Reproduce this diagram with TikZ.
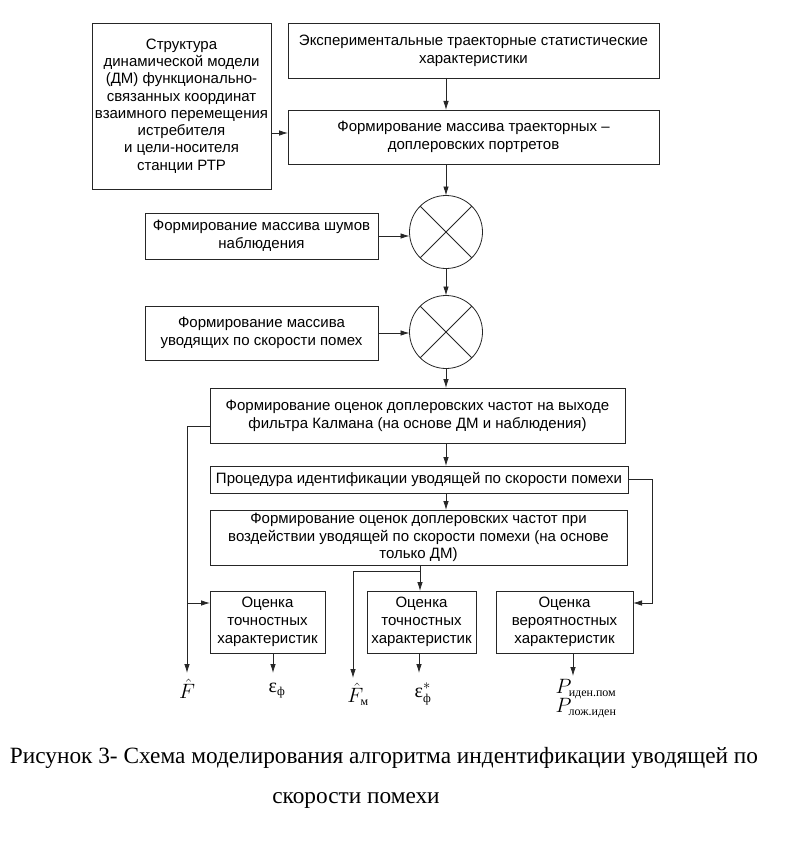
\documentclass[tikz,border=0pt]{standalone}
\usepackage{fontspec}
\setmainfont{Liberation Serif}
\setsansfont{Liberation Sans}
\usetikzlibrary{arrows.meta,calc}
\tikzset{
 box/.style={draw=black!85, line width=0.8pt, inner sep=0pt, outer sep=0pt, align=center, font=\sffamily\fontsize{15}{17.8}\selectfont},
 mix/.style={circle, draw=black!85, line width=0.8pt, minimum size=73pt, inner sep=0pt, outer sep=0pt},
 conn/.style={draw=black!85, line width=0.8pt},
 arr/.style={conn, -{Latex[length=9pt,width=5.5pt]}},
 lbl/.style={inner sep=0pt, font=\rmfamily\fontsize{20}{20}\selectfont},
 captext/.style={inner sep=0pt, font=\rmfamily\fontsize{23.3}{23.3}\selectfont},
}
\newcommand{\subtxt}[1]{\mbox{\fontsize{12}{12}\selectfont #1}}
\begin{document}
\begin{tikzpicture}[x=1pt,y=-1pt]
\useasboundingbox (0,0) rectangle (797,848);
\fill[white] (0,0) rectangle (797,848);
% boxes
\node[box, minimum width=179pt, minimum height=166pt, font=\sffamily\fontsize{15}{17.3}\selectfont] (A) at (181.5,106) {Структура\\динамической модели\\(ДМ) функционально-\\связанных координат\\взаимного перемещения\\истребителя\\и цели-носителя\\станции РТР};
\node[box, minimum width=371pt, minimum height=55pt] (B) at (473.5,50.5) {Экспериментальные траекторные статистические\\характеристики};
\node[box, minimum width=371pt, minimum height=54pt] (C) at (473.5,137) {Формирование массива траекторных --\\доплеровских портретов};
\node[mix] (m1) at (446,232) {};
\node[box, minimum width=233pt, minimum height=46pt] (D) at (261.5,236) {Формирование массива шумов\\наблюдения};
\node[mix] (m2) at (446,332) {};
\node[box, minimum width=233pt, minimum height=54pt] (E) at (261.5,333) {Формирование массива\\уводящих по скорости помех};
\node[box, minimum width=415pt, minimum height=55pt] (F) at (417.5,415.5) {Формирование оценок доплеровских частот на выходе\\фильтра Калмана (на основе ДМ и наблюдения)};
\node[box, minimum width=418pt, minimum height=27pt] (G) at (419,479.5) {Процедура идентификации уводящей по скорости помехи};
\node[box, minimum width=417pt, minimum height=55pt] (H) at (418.5,537.5) {Формирование оценок доплеровских частот при\\воздействии уводящей по скорости помехи (на основе\\только ДМ)};
\node[box, minimum width=115pt, minimum height=62pt] (I1) at (267.5,622) {Оценка\\точностных\\характеристик};
\node[box, minimum width=109pt, minimum height=62pt] (I2) at (421.5,622) {Оценка\\точностных\\характеристик};
\node[box, minimum width=137pt, minimum height=62pt] (J) at (564.5,622) {Оценка\\вероятностных\\характеристик};
% crosses
\draw[conn] (m1.north east) -- (m1.south west) (m1.north west) -- (m1.south east);
\draw[conn] (m2.north east) -- (m2.south west) (m2.north west) -- (m2.south east);
% helper coordinates
\coordinate (ax) at (446,0);
\coordinate (lx) at (187,0);
\coordinate (rx) at (652,0);
\coordinate (hx) at (420,0);
\coordinate (hj) at (420,571);
\coordinate (Cin) at ($(C.west)+(0,-4)$);
\coordinate (Fout) at ($(F.west)+(0,10.5)$);
\coordinate (I1in) at ($(I1.west)+(0,-19)$);
\coordinate (Jin) at ($(J.east)+(0,-19)$);
\coordinate (Fend) at (187,673);
\coordinate (Fmend) at (353,678);
\coordinate (e1) at (273,673);
\coordinate (e2) at (419,673);
\coordinate (e3) at (573,676);
% connectors
\draw[arr] (B.south -| ax) -- (C.north -| ax);
\draw[arr] (Cin -| A.east) -- (Cin);
\draw[arr] (C.south -| ax) -- (m1.north);
\draw[arr] (D.east) -- (D.east -| m1.west);
\draw[arr] (m1.south) -- (m2.north);
\draw[arr] (E.east) -- (E.east -| m2.west);
\draw[arr] (m2.south) -- (F.north -| ax);
\draw[arr] (F.south -| ax) -- (G.north -| ax);
\draw[arr] (G.south -| ax) -- (H.north -| ax);
\draw[arr] (Fout) -| (Fend);
\draw[arr] (I1in -| lx) -- (I1in);
\draw[arr] (G.east) -| (Jin -| rx) -- (Jin);
\draw[conn] (H.south -| hx) -- (hj);
\draw[arr] (hj) -| (Fmend);
\draw[arr] (hj) -- (I2.north -| hx);
\draw[arr] (I1.south -| e1) -- (e1);
\draw[arr] (I2.south -| e2) -- (e2);
\draw[arr] (J.south -| e3) -- (e3);
% output labels
\node[lbl] (lF) at (187,689) {$\hat{F}$};
\node[lbl] (le1) at (277,691) {$\mbox{ε}_{\subtxt{ф}}$};
\node[lbl] (lFm) at (358,694) {$\hat{F}_{\subtxt{м}}$};
\node[lbl] (le2) at (423,694) {$\mbox{ε}^{*}_{\subtxt{ф}}$};
\node[lbl] (lP1) at (586,689) {$P_{\subtxt{иден.пом}}$};
\node[lbl] (lP2) at (586,708) {$P_{\subtxt{лож.иден}}$};
% caption
\node[captext] (cap1) at (384,758) {Рисунок 3- Схема моделирования алгоритма индентификации уводящей по};
\node[captext] (cap2) at (356,800) {скорости помехи};
\end{tikzpicture}
\end{document}
